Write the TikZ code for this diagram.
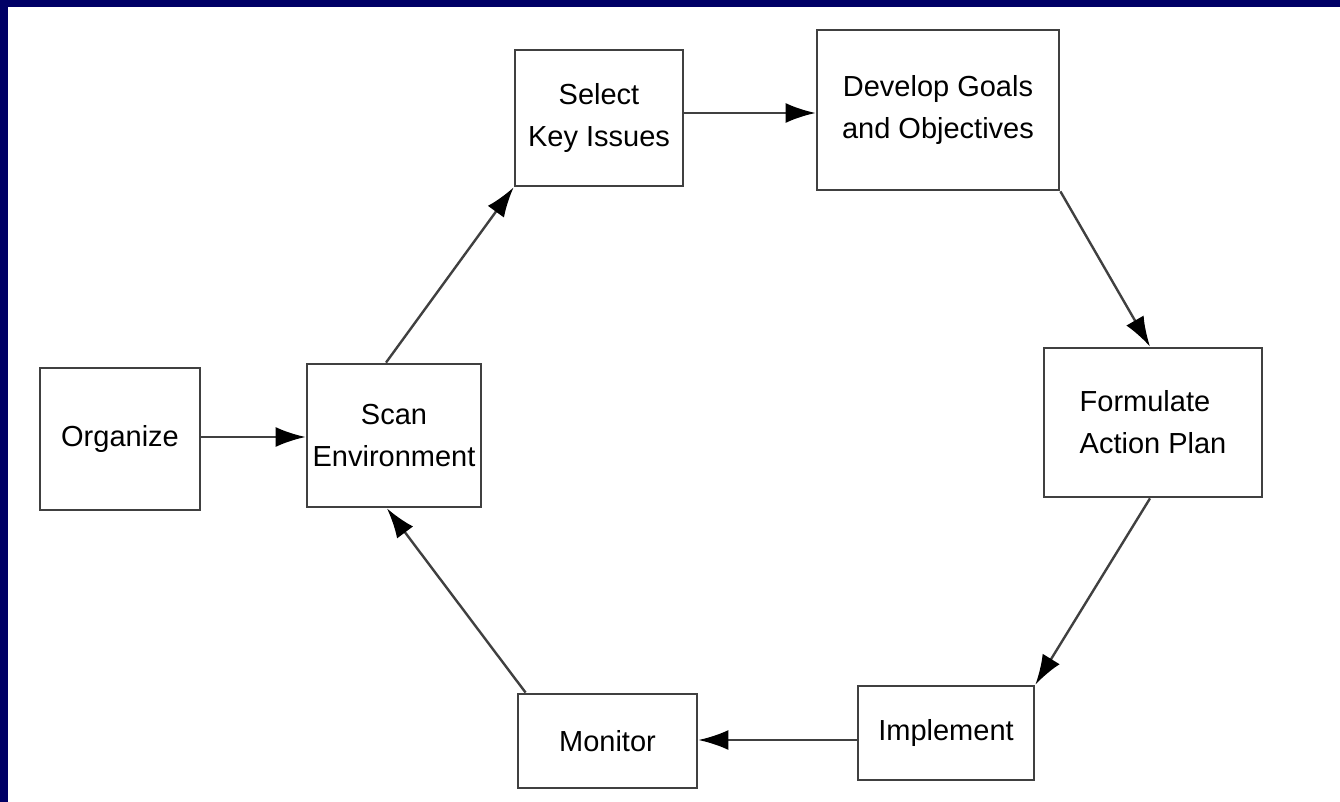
\documentclass[tikz,border=0pt]{standalone}
\usepackage{fontspec}
\setmainfont{Liberation Sans}
\usepackage{tikz}
\usetikzlibrary{positioning}
\usetikzlibrary{arrows.meta}

\definecolor{frameblue}{RGB}{0,0,102}
\definecolor{boxline}{RGB}{64,64,64}

\tikzset{
  stepbox/.style={draw=boxline, line width=1.4pt, inner sep=0pt, align=center,
    font=\fontsize{14.5}{21}\selectfont},
  flow/.style={draw=boxline, line width=1.2pt,
    -{Latex[length=15pt,width=10pt,black]}}
}

\begin{document}
\begin{tikzpicture}[x=0.5pt, y=-0.5pt]
  \useasboundingbox (0,0) rectangle (1340,802);
  % Rahmen
  \fill[frameblue] (0,0) rectangle (1340,7);
  \fill[frameblue] (0,0) rectangle (8,802);

  % Kaesten
  \node[stepbox, minimum width=80pt, minimum height=71pt] (organize) at (120,439) {Organize};
  \node[stepbox, minimum width=87pt, minimum height=71.5pt] (scan) at (394,435.5) {Scan\\Environment};
  \node[stepbox, minimum width=84pt, minimum height=68pt] (select) at (599,118) {Select\\Key Issues};
  \node[stepbox, minimum width=121pt, minimum height=80pt] (develop) at (938,110) {Develop Goals\\and Objectives};
  \node[stepbox, align=left, minimum width=109pt, minimum height=74.5pt] (formulate) at (1153,422.5) {Formulate\\Action Plan};
  \node[stepbox, minimum width=88pt, minimum height=47pt] (implement) at (946,733) {Implement};
  \node[stepbox, minimum width=89.5pt, minimum height=47pt] (monitor) at (607.5,741) {Monitor};

  % Pfeile
  \draw[flow] (organize.east |- 0,437) -- (scan.west |- 0,437);
  \draw[flow] ([xshift=-4pt]scan.north) -- (select.south west);
  \draw[flow] (select.east |- 0,113) -- (develop.west |- 0,113);
  \draw[flow] (develop.south east) -- ([xshift=-1.5pt]formulate.north);
  \draw[flow] ([xshift=-1.5pt]formulate.south) -- (implement.north east);
  \draw[flow] (implement.west |- 0,740) -- (monitor.east |- 0,740);
  \draw[flow] ([xshift=4.5pt]monitor.north west) -- ([xshift=-3.5pt]scan.south);
\end{tikzpicture}
\end{document}
